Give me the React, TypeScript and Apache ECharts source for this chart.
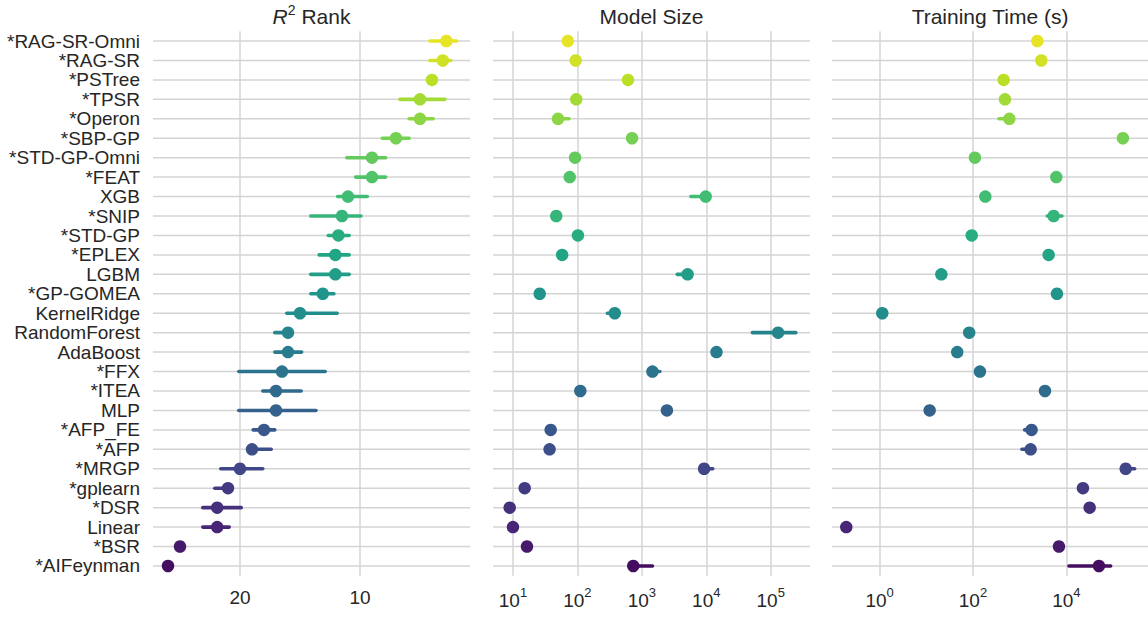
import React, { useEffect, useRef } from "react";
import * as echarts from "echarts";

const categories = [
  "*RAG-SR-Omni", "*RAG-SR", "*PSTree", "*TPSR", "*Operon", "*SBP-GP", "*STD-GP-Omni", "*FEAT",
  "XGB", "*SNIP", "*STD-GP", "*EPLEX", "LGBM", "*GP-GOMEA", "KernelRidge", "RandomForest",
  "AdaBoost", "*FFX", "*ITEA", "MLP", "*AFP_FE", "*AFP", "*MRGP", "*gplearn", "*DSR", "Linear",
  "*BSR", "*AIFeynman",
];

// R^2 rank (lower is better), with interval ends
const r2Rank = [2.8, 3.1, 4.0, 5.0, 5.0, 7.0, 9.0, 9.0, 11.0, 11.5, 11.8, 12.05, 12.05, 13.1, 15.0, 16.0, 16.0, 16.5, 17.0, 17.0, 18.0, 19.0, 20.0, 21.0, 21.9, 21.9, 25.0, 26.0];
const r2Lo = [1.94, 2.44, 4.0, 2.92, 3.9, 5.9, 7.86, 7.86, 9.39, 9.92, 10.9, 10.9, 10.9, 12.17, 11.9, 16.0, 14.86, 12.9, 14.9, 13.67, 17.1, 17.4, 18.1, 21.0, 19.9, 20.9, 25.0, 26.0];
const r2Hi = [4.17, 4.17, 4.0, 6.67, 5.9, 8.14, 11.1, 10.36, 11.86, 14.1, 12.64, 13.4, 14.1, 14.1, 16.1, 17.1, 17.1, 20.1, 18.1, 20.1, 18.9, 19.0, 21.6, 22.1, 23.1, 23.1, 25.0, 26.0];

// Model size
const modelSize = [71, 94, 610, 96, 50, 705, 92, 76, 9800, 47, 102, 58, 5130, 26, 380, 130000, 14400, 1460, 111, 2450, 38.5, 37, 9250, 15.2, 8.9, 10, 16.5, 736];
const modelSizeLo = [71, 94, 610, 96, 50, 705, 92, 76, 5760, 47, 102, 58, 3540, 26, 292, 52000, 14400, 1460, 111, 2450, 38.5, 37, 9250, 15.2, 8.9, 10, 16.5, 736];
const modelSizeHi = [71, 94, 610, 96, 74, 705, 92, 76, 9800, 47, 102, 58, 5130, 26, 380, 245000, 14400, 1900, 111, 2450, 38.5, 37, 12600, 15.2, 8.9, 10, 16.5, 1460];

// Training time (s)
const trainTime = [2390, 2910, 454, 485, 601, 163000, 110, 6100, 184, 5350, 94, 4180, 21, 6300, 1.14, 83, 46, 141, 3490, 11.8, 1800, 1720, 187000, 22700, 31600, 0.193, 6960, 50000];
const trainTimeLo = [2390, 2910, 454, 440, 360, 163000, 110, 6100, 184, 3900, 94, 4180, 21, 6300, 1.14, 83, 46, 125, 3490, 11.8, 1280, 1120, 187000, 22700, 31600, 0.193, 6960, 11400];
const trainTimeHi = [2390, 2910, 454, 485, 601, 163000, 110, 6100, 184, 8050, 94, 4180, 21, 6300, 1.14, 83, 46, 160, 3490, 11.8, 1800, 1720, 291000, 22700, 31600, 0.193, 6960, 89000];

const panelTitles = ["{i|R}{s|2}{t| Rank}", "Model Size", "Training Time (s)"];

const FONT = "'Liberation Sans', Arial, Helvetica, sans-serif";
const TEXT = "#262626";
const GRID = "#d4d4d4";

const VIRIDIS = ["#440154", "#482475", "#414487", "#355f8d", "#2a788e", "#21918c", "#22a884", "#44bf70", "#7ad151", "#bddf26", "#fde725"];

function hexRgb(h: string) {
  const v = parseInt(h.slice(1), 16);
  return [(v >> 16) & 255, (v >> 8) & 255, v & 255];
}
function viridis(t: number) {
  const s = Math.max(0, Math.min(1, t)) * (VIRIDIS.length - 1);
  const i = Math.min(VIRIDIS.length - 2, Math.floor(s));
  const f = s - i;
  const a = hexRgb(VIRIDIS[i]);
  const b = hexRgb(VIRIDIS[i + 1]);
  const c = a.map((x, k) => Math.round(x + (b[k] - x) * f));
  return `rgb(${c[0]},${c[1]},${c[2]})`;
}

export default function App() {
  const ref = useRef<HTMLDivElement>(null);
  useEffect(() => {
    document.body.style.margin = "0";
    const chart = echarts.init(ref.current!, null, { renderer: "svg" });
    const n = categories.length;
    const colors = categories.map((_, i) => viridis((n - i) / (n + 1)));

    const top = 31.3;
    const height = 544.4;
    const grids = [
      { left: 153, width: 317, top, height },
      { left: 493, width: 317, top, height },
      { left: 832, width: 316, top, height },
    ];
    const panels = [
      { v: r2Rank, lo: r2Lo, hi: r2Hi },
      { v: modelSize, lo: modelSizeLo, hi: modelSizeHi },
      { v: trainTime, lo: trainTimeLo, hi: trainTimeHi },
    ];

    const series: any[] = [];
    panels.forEach((p, k) => {
      series.push({
        type: "custom",
        xAxisIndex: k,
        yAxisIndex: k,
        z: 2,
        silent: true,
        clip: false,
        data: p.v.map((v, i) => [v, i, p.lo[i], p.hi[i]]),
        encode: { x: [0, 2, 3], y: 1 },
        renderItem: (params: any, api: any) => {
          const idx = params.dataIndex;
          const cs = params.coordSys;
          const a = api.coord([api.value(2), idx]);
          const b = api.coord([api.value(3), idx]);
          const y = a[1];
          return {
            type: "group",
            children: [
              {
                type: "line",
                shape: { x1: cs.x, y1: y, x2: cs.x + cs.width, y2: y },
                style: { stroke: GRID, lineWidth: 1.5 },
              },
              {
                type: "line",
                shape: { x1: a[0], y1: y, x2: b[0], y2: y },
                style: { stroke: colors[idx], lineWidth: 3.6, lineCap: "round" },
              },
            ],
          };
        },
      });
      series.push({
        type: "scatter",
        xAxisIndex: k,
        yAxisIndex: k,
        z: 3,
        symbolSize: 12.5,
        silent: true,
        data: p.v.map((v, i) => ({ value: [v, i], itemStyle: { color: colors[i], opacity: 1 } })),
      });
    });

    const logLabel = (v: number) => `{b|10}{s|${Math.round(Math.log10(v))}}`;
    const supRich = {
      b: { fontSize: 19, fontFamily: FONT, color: TEXT, lineHeight: 30 },
      s: { fontSize: 13, fontFamily: FONT, color: TEXT, verticalAlign: "top" },
    };
    const splitLine = {
      show: true,
      showMinLine: false,
      showMaxLine: false,
      lineStyle: { color: GRID, width: 1.5 },
    };

    const xAxis: any[] = [
      {
        type: "value",
        gridIndex: 0,
        inverse: true,
        min: 0.83,
        max: 27.25,
        splitNumber: 3,
        axisLine: { show: false },
        axisTick: { show: false },
        axisLabel: {
          fontSize: 19,
          color: TEXT,
          fontFamily: FONT,
          margin: 12,
          showMinLabel: false,
          showMaxLabel: false,
        },
        splitLine,
      },
      {
        type: "log",
        gridIndex: 1,
        logBase: 10,
        min: 4.9,
        max: 407000,
        axisLine: { show: false },
        axisTick: { show: false },
        axisLabel: { formatter: logLabel, rich: supRich, margin: 10, showMinLabel: false, showMaxLabel: false },
        splitLine,
      },
      {
        type: "log",
        gridIndex: 2,
        logBase: 100,
        min: 0.0955,
        max: 562000,
        axisLine: { show: false },
        axisTick: { show: false },
        axisLabel: { formatter: logLabel, rich: supRich, margin: 10, showMinLabel: false, showMaxLabel: false },
        splitLine,
      },
    ];

    const yAxis = grids.map((_, k) => ({
      type: "category",
      gridIndex: k,
      data: categories,
      inverse: true,
      axisLine: { show: false },
      axisTick: { show: false },
      splitLine: { show: false },
      axisLabel: {
        show: k === 0,
        interval: 0,
        fontSize: 19,
        lineHeight: 18,
        color: TEXT,
        fontFamily: FONT,
        margin: 13,
      },
    }));

    const centers = grids.map((g) => g.left + g.width / 2);
    const graphic = panelTitles.map((t, k) => ({
      type: "text",
      x: centers[k],
      y: 16,
      silent: true,
      style: {
        text: t,
        fill: TEXT,
        font: `21px ${FONT}`,
        fontSize: 21,
        fontFamily: FONT,
        align: "center",
        verticalAlign: "middle",
        rich: {
          i: { fill: TEXT, fontSize: 21, fontFamily: FONT, fontStyle: "italic", lineHeight: 26 },
          s: { fill: TEXT, fontSize: 14, fontFamily: FONT, verticalAlign: "top" },
          t: { fill: TEXT, fontSize: 21, fontFamily: FONT, lineHeight: 26 },
        },
      },
    }));

    chart.setOption({
      animation: false,
      backgroundColor: "#ffffff",
      grid: grids,
      xAxis,
      yAxis,
      series,
      graphic,
    });
    return () => chart.dispose();
  }, []);
  return <div ref={ref} style={{ width: 1148, height: 620 }} />;
}
